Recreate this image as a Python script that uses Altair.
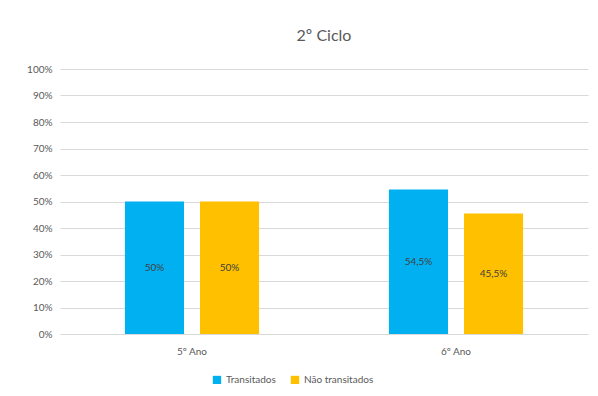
import altair as alt
import pandas as pd

categories = ["5º Ano", "5º Ano", "6º Ano", "6º Ano"]
series = ["Transitados", "Não transitados", "Transitados", "Não transitados"]
values = [0.50, 0.50, 0.545, 0.455]
labels = ["50%", "50%", "54,5%", "45,5%"]
y_ticks = [0.0, 0.1, 0.2, 0.3, 0.4, 0.5, 0.6, 0.7, 0.8, 0.9, 1.0]

df = pd.DataFrame({"ano": categories, "serie": series, "valor": values, "rotulo": labels})

font = "Lato"
order = ["Transitados", "Não transitados"]
colors = ["#00B0F0", "#FFC000"]

x = alt.X("ano:N", title=None, sort=["5º Ano", "6º Ano"],
          scale=alt.Scale(paddingInner=0.492, paddingOuter=0.246),
          axis=alt.Axis(labelAngle=0, ticks=False, domain=False, labelFont=font,
                        labelFontSize=10, labelColor="#595959", labelPadding=12))
xo = alt.XOffset("serie:N", sort=order, scale=alt.Scale(paddingInner=0.213, paddingOuter=0))

y_axis = alt.Axis(format=".0%", values=y_ticks, ticks=False,
                  domain=False, labelFont=font, labelFontSize=10,
                  labelOverlap=False,
                  labelColor="#595959", labelPadding=8,
                  gridColor="#d9d9d9", gridWidth=1)
y_scale = alt.Scale(domain=[0, 1], nice=False)

bars = alt.Chart(df).mark_bar().encode(
    x=x, xOffset=xo,
    y=alt.Y("valor:Q", title=None, scale=y_scale, axis=y_axis),
    color=alt.Color("serie:N", sort=order, title=None,
                    scale=alt.Scale(domain=order, range=colors),
                    legend=alt.Legend(orient="none", direction="horizontal",
                                      legendX=152, legendY=306, symbolType="square",
                                      symbolSize=70, symbolStrokeWidth=0,
                                      labelFont=font, labelFontSize=10,
                                      labelColor="#595959", columnPadding=14)),
)

text = alt.Chart(df).transform_calculate(mid="datum.valor / 2").mark_text(
    font=font, fontSize=10, color="#404040"
).encode(
    x=x, xOffset=xo,
    y=alt.Y("mid:Q", title=None, scale=y_scale, axis=y_axis),
    text="rotulo:N",
)

chart = (bars + text).properties(
    width=528, height=265,
    title=alt.TitleParams("2º Ciclo", font=font, fontSize=16, fontWeight="normal",
                          color="#595959", anchor="middle", offset=20),
    autosize=alt.AutoSizeParams(type="none"),
    padding={"left": 52, "top": 61, "right": 2, "bottom": 50},
).configure_view(stroke=None).configure_axis(labelFont=font)

chart.save("out.html", embed_options={"renderer": "svg", "actions": False})
